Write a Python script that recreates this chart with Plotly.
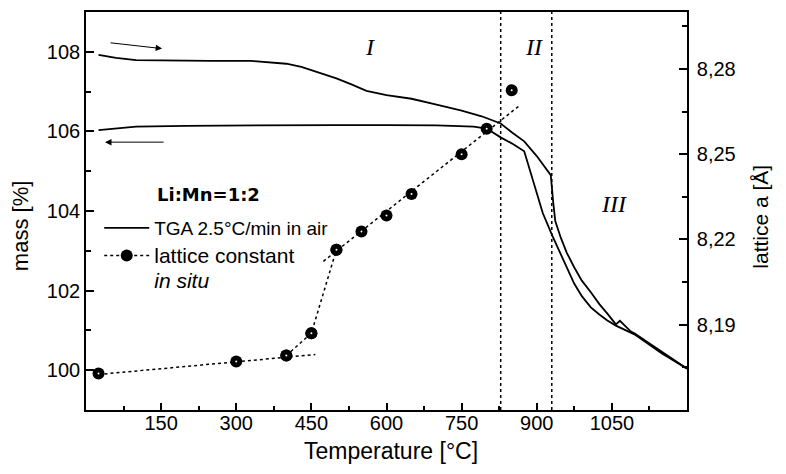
import plotly.graph_objects as go

# ---- data ----
# TGA heating curve (upper branch, arrow to the right)
heat_T = [25, 60, 100, 150, 250, 330, 370, 400, 430, 460, 500, 530, 560, 600, 650, 700,
          750, 790, 828, 850, 875, 900, 928, 933, 937, 948, 960, 975, 990, 1008, 1025,
          1041, 1058, 1066, 1088, 1095, 1150, 1195, 1200]
heat_m = [107.92, 107.85, 107.79, 107.78, 107.77, 107.77, 107.74, 107.70, 107.62, 107.50,
          107.33, 107.18, 107.02, 106.91, 106.82, 106.67, 106.52, 106.38, 106.20, 105.98,
          105.75, 105.38, 104.90, 104.20, 103.75, 103.33, 102.95, 102.58, 102.25, 101.96,
          101.66, 101.42, 101.15, 101.24, 100.97, 100.93, 100.45, 100.08, 100.04]

# TGA cooling curve (lower branch, arrow to the left)
cool_T = [25, 60, 100, 200, 300, 400, 500, 600, 700, 774, 800, 828, 850, 875, 891, 912,
          931, 948, 960, 975, 990, 1008, 1025, 1041, 1058, 1080, 1095, 1150, 1195, 1200]
cool_m = [106.03, 106.08, 106.12, 106.14, 106.15, 106.16, 106.16, 106.16, 106.15, 106.12,
          106.07, 105.85, 105.70, 105.50, 104.85, 103.95, 103.38, 102.90, 102.55, 102.17,
          101.86, 101.58, 101.40, 101.25, 101.12, 100.98, 100.90, 100.42, 100.06, 100.04]

# lattice constant in situ (right axis)
lat_T = [25, 300, 400, 450, 500, 550, 600, 650, 750, 800, 850]
lat_a = [8.1728, 8.1771, 8.1792, 8.1870, 8.2164, 8.2228, 8.2284, 8.2360, 8.2500, 8.2589, 8.2725]

# dotted linear guides through the lattice data
fit_low_T = [25, 458]
fit_low_a = [8.1725, 8.1795]
fit_high_T = [474, 865]
fit_high_a = [8.2123, 8.2670]

# region boundaries and labels
bound_T = [828, 930]
region_text = ["I", "II", "III"]
region_T = [568, 894, 1054]
region_m = [108.13, 108.13, 104.18]

# axis ticks
x_ticks = [150, 300, 450, 600, 750, 900, 1050]
x_minor = [75, 225, 375, 525, 675, 825, 975, 1125]
y_ticks = [100, 102, 104, 106, 108]
y_minor = [101, 103, 105, 107]
y2_ticks = [8.19, 8.22, 8.25, 8.28]
y2_labels = ["8,19", "8,22", "8,25", "8,28"]
y2_minor = [8.175, 8.205, 8.235, 8.265, 8.295]

FONT = "Liberation Sans"

fig = go.Figure()

fig.add_trace(go.Scatter(x=heat_T, y=heat_m, mode="lines",
                         line=dict(color="black", width=1.8),
                         name="TGA 2.5°C/min in air", showlegend=True))
fig.add_trace(go.Scatter(x=cool_T, y=cool_m, mode="lines",
                         line=dict(color="black", width=1.8), showlegend=False))

fig.add_trace(go.Scatter(x=fit_low_T, y=fit_low_a, yaxis="y2", mode="lines",
                         line=dict(color="black", width=1.5, dash="dot"), showlegend=False))
fig.add_trace(go.Scatter(x=fit_high_T, y=fit_high_a, yaxis="y2", mode="lines",
                         line=dict(color="black", width=1.5, dash="dot"), showlegend=False))

fig.add_trace(go.Scatter(x=lat_T[2:5], y=lat_a[2:5], yaxis="y2", mode="lines+markers",
                         line=dict(color="black", width=1.5, dash="dot"),
                         marker=dict(color="black", size=12),
                         name='<span style="font-size:21px">lattice constant</span><br>'
                              '<span style="font-size:21px"><i>in situ</i></span>'))
fig.add_trace(go.Scatter(x=lat_T, y=lat_a, yaxis="y2", mode="markers",
                         marker=dict(color="black", size=12), showlegend=False))
fig.add_trace(go.Scatter(x=lat_T, y=lat_a, yaxis="y2", mode="markers",
                         marker=dict(color="white", size=2), showlegend=False,
                         hoverinfo="skip"))

shapes = []
for t in bound_T:
    shapes.append(dict(type="line", xref="x", yref="paper", x0=t, x1=t, y0=0, y1=1,
                       line=dict(color="black", width=1.5, dash="dot")))

annotations = []
for txt, t, m in zip(region_text, region_T, region_m):
    annotations.append(dict(x=t, y=m, xref="x", yref="y", text="<i>%s</i>" % txt,
                            showarrow=False, xanchor="center", yanchor="middle",
                            font=dict(family="Liberation Serif", size=24, color="black")))

# heating / cooling direction arrows
annotations.append(dict(x=152, y=108.08, ax=46, ay=108.23, xref="x", yref="y",
                        axref="x", ayref="y", text="", showarrow=True,
                        arrowhead=2, arrowsize=1.3, arrowwidth=1, arrowcolor="black"))
annotations.append(dict(x=38, y=105.73, ax=158, ay=105.73, xref="x", yref="y",
                        axref="x", ayref="y", text="", showarrow=True,
                        arrowhead=2, arrowsize=1.3, arrowwidth=1, arrowcolor="black"))

annotations.append(dict(x=0.1148, y=0.5406, xref="paper", yref="paper", xanchor="left",
                        yanchor="middle", text="<b>Li:Mn=1:2</b>", showarrow=False,
                        font=dict(family="DejaVu Sans", size=18, color="black")))

annotations.append(dict(x=0.5075, y=-0.1024, xref="paper", yref="paper",
                        xanchor="center", yanchor="middle",
                        text="Temperature [°C]", showarrow=False,
                        font=dict(family=FONT, size=23, color="black")))
annotations.append(dict(x=-0.1098, y=0.462, xref="paper", yref="paper",
                        xanchor="center", yanchor="middle",
                        text="mass [%]", textangle=-90, showarrow=False,
                        font=dict(family=FONT, size=22, color="black")))
annotations.append(dict(x=1.1231, y=0.4856, xref="paper", yref="paper",
                        xanchor="center", yanchor="middle",
                        text="lattice a [Å]", textangle=-90, showarrow=False,
                        font=dict(family=FONT, size=21, color="black")))

axis_common = dict(showline=True, linecolor="black", linewidth=1.6, ticks="inside",
                   tickcolor="black", tickwidth=1.5, showgrid=False, zeroline=False,
                   tickfont=dict(family=FONT, size=20, color="black"))

fig.update_layout(
    width=786, height=474,
    margin=dict(l=86, r=99, t=10, b=64),
    plot_bgcolor="white", paper_bgcolor="white",
    showlegend=True,
    legend=dict(x=0.022, y=0.505, xanchor="left", yanchor="top",
                font=dict(family=FONT, size=19, color="black"),
                bgcolor="rgba(0,0,0,0)", itemwidth=45, tracegroupgap=0,
                valign="top"),
    xaxis=dict(range=[0, 1200], tickvals=x_ticks, ticklen=7, mirror=True,
               ticklabelstandoff=-6,
               minor=dict(tickvals=x_minor, ticks="inside", ticklen=4,
                          tickcolor="black", tickwidth=1.5),
               **axis_common),
    yaxis=dict(range=[99, 109], tickvals=y_ticks, ticklen=8,
               minor=dict(tickvals=y_minor, ticks="inside", ticklen=5,
                          tickcolor="black", tickwidth=1.5),
               **axis_common),
    yaxis2=dict(range=[8.16, 8.30], overlaying="y", side="right",
                tickvals=y2_ticks, ticktext=y2_labels, ticklen=8,
                ticklabelstandoff=4,
                minor=dict(tickvals=y2_minor, ticks="inside", ticklen=5,
                           tickcolor="black", tickwidth=1.5),
                **axis_common),
    shapes=shapes,
    annotations=annotations,
)

fig.write_html("out.html")
